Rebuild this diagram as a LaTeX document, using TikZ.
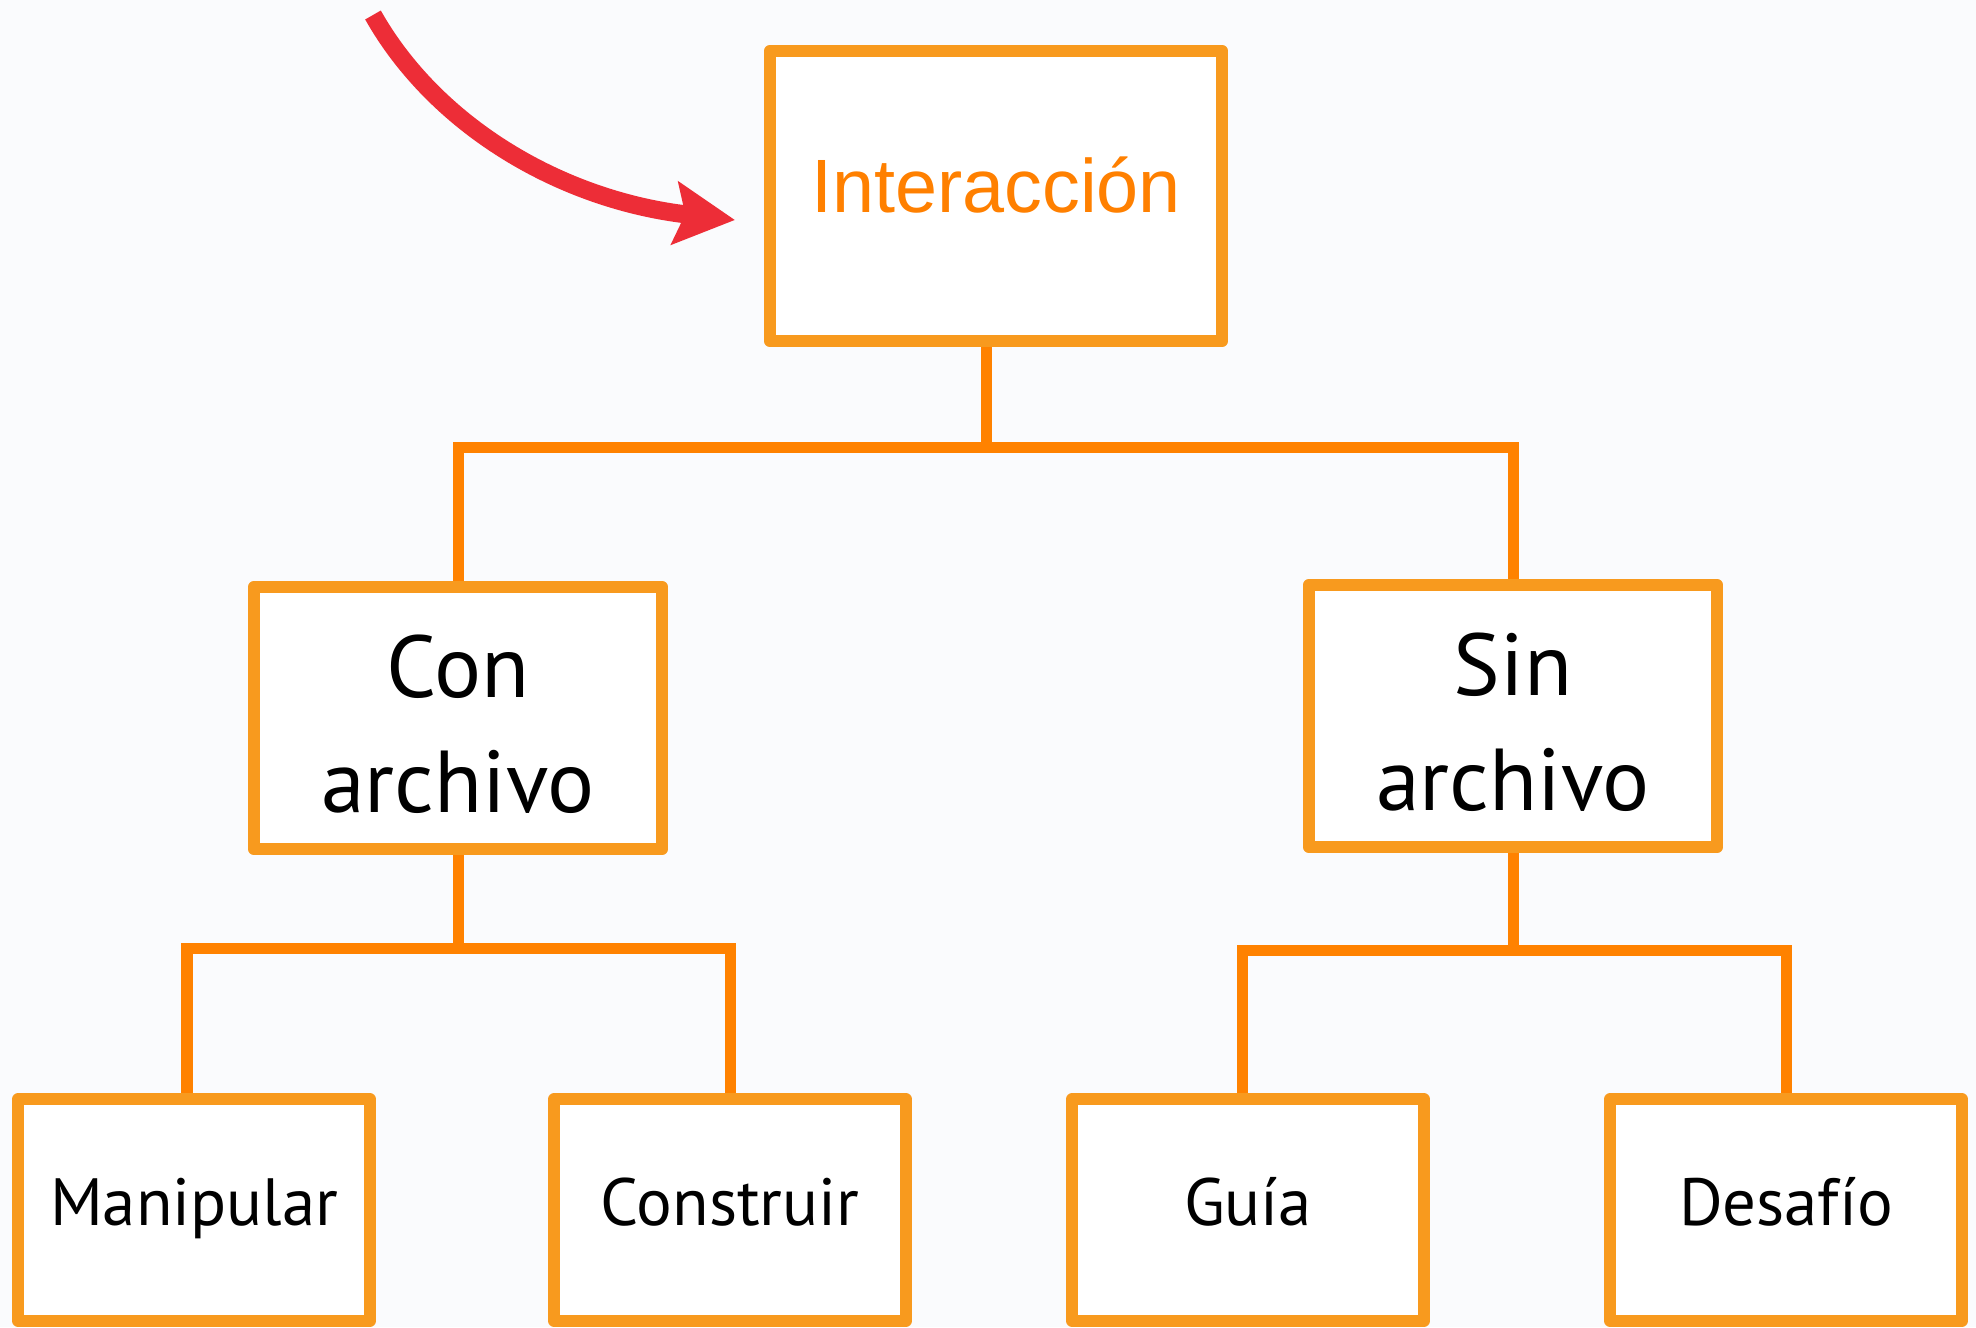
\documentclass[tikz,border=0pt]{standalone}
\usepackage{fontspec}
\setmainfont{PT Sans}
\newfontfamily\arialfont{Liberation Sans}
\usetikzlibrary{arrows.meta}
\definecolor{boxorange}{RGB}{248,154,30}
\definecolor{lineorange}{RGB}{255,130,0}
\definecolor{titleorange}{RGB}{255,128,0}
\definecolor{arrowred}{RGB}{237,45,55}
\definecolor{paper}{RGB}{250,251,253}

\begin{document}
\begin{tikzpicture}[x=0.01cm,y=-0.01cm,
    box/.style={draw=boxorange,line width=0.12cm,fill=white,line join=round,inner sep=0pt,align=center},
    conn/.style={draw=lineorange,line width=0.11cm},
    leaf/.style={box,minimum width=3.51cm,minimum height=2.22cm,font=\fontsize{19}{23}\selectfont,text height=0.98em,text depth=0.12em},
    branch/.style={box,minimum width=4.08cm,minimum height=2.62cm,font=\fontsize{25}{32.6}\selectfont,text height=54pt}]
        % Background
        \fill[paper] (0,0) rectangle (1976,1327);
        \useasboundingbox (0,0) rectangle (1976,1327);
        % Root
        \node[box,minimum width=4.52cm,minimum height=2.90cm,text=titleorange,font=\arialfont\fontsize{21.5}{26}\selectfont,text height=0.55cm,text depth=0.23cm] (inter) at (996,196) {Interacción};
        \coordinate (arrowtail) at (373,15);
        \coordinate (arrowhead) at (735,220);
        \draw[arrowred,line width=0.18cm,-{Stealth[length=0.6cm,width=0.62cm,inset=0.1cm]}] (arrowtail) .. controls (435,125) and (560,200) .. (arrowhead);
        % Second level
        \node[branch] (con) at (458,718) {Con\\archivo};
        \node[branch] (sin) at (1513,716) {Sin\\archivo};
        \coordinate (busA) at (986,447);
        \draw[conn] (inter.south -| busA) -- (busA);
        \draw[conn] (con.north) |- (busA) -| (sin.north);
        % Con archivo
        \node[leaf] (man) at (194,1210) {Manipular};
        \node[leaf] (cons) at (730,1210) {Construir};
        \coordinate (busB) at (458,948);
        \draw[conn] (con.south) -- (busB);
        \draw[conn] ([xshift=-0.07cm]man.north) |- (busB) -| (cons.north);
        % Sin archivo
        \node[leaf] (guia) at (1248,1210) {Guía};
        \node[leaf] (desa) at (1786,1210) {Desafío};
        \coordinate (busC) at (1513,950);
        \draw[conn] (sin.south) -- (busC);
        \draw[conn] ([xshift=-0.06cm]guia.north) |- (busC) -| (desa.north);
\end{tikzpicture}
\end{document}
